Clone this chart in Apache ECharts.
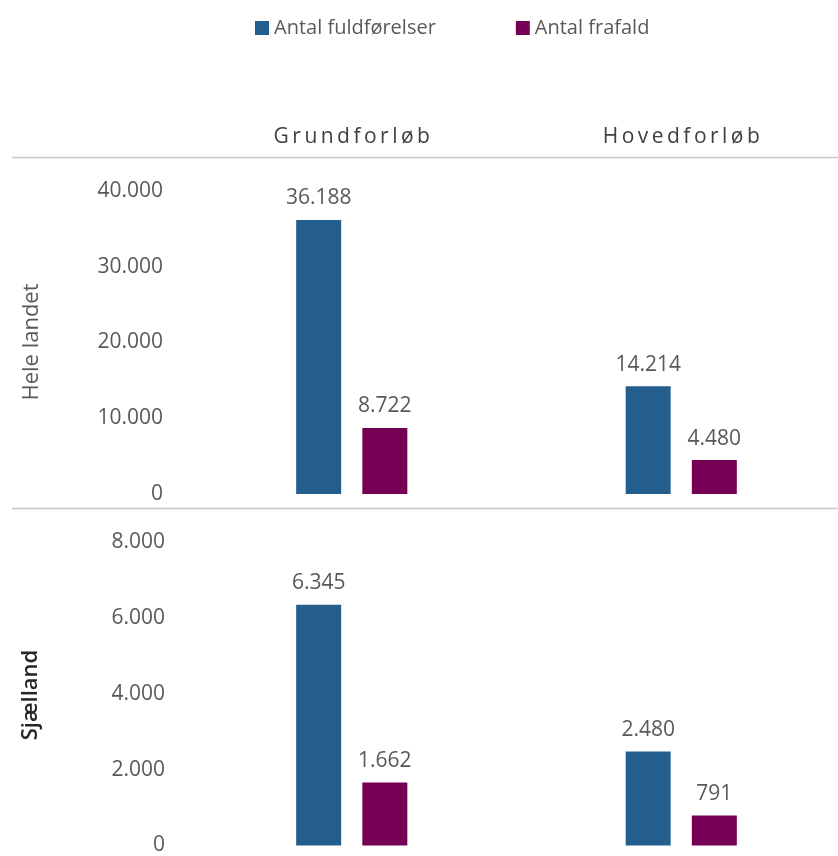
<!DOCTYPE html>
<html>
<head>
<meta charset="utf-8">
<script src="https://cdn.jsdelivr.net/npm/echarts@6/dist/echarts.min.js"></script>
<style>
html,body{margin:0;padding:0;background:#fff;overflow:hidden;}
#c{width:846px;height:856px;}
</style>
</head>
<body>
<div id="c"></div>
<script>
var categories = ['Grundforløb', 'Hovedforløb'];
var seriesNames = ['Antal fuldførelser', 'Antal frafald'];
var panelNames = ['Hele landet', 'Sjælland'];
var heleFuld = [36188, 14214];
var heleFrafald = [8722, 4480];
var sjaFuld = [6345, 2480];
var sjaFrafald = [1662, 791];

var BLUE = '#245E8D', PURPLE = '#760054', TXT = '#595959';
var FONT = '"Open Sans", "Noto Sans", sans-serif';

function fmt(v) {
  return String(v).replace(/\B(?=(\d{3})+(?!\d))/g, '.');
}
function spaced(s) {
  return s.split('').join('\u2009');
}

var chart = echarts.init(document.getElementById('c'));

function barSeries(name, data, idx, color) {
  return {
    type: 'bar', name: name, data: data,
    xAxisIndex: idx, yAxisIndex: idx,
    barWidth: 45, barGap: '47%',
    itemStyle: { color: color },
    label: {
      show: true, position: 'top', distance: 11,
      fontFamily: FONT, fontSize: 21, color: TXT,
      formatter: function (p) { return fmt(p.value); }
    },
    emphasis: { disabled: true }
  };
}

chart.setOption({
  animation: false,
  textStyle: { fontFamily: FONT },
  legend: {
    data: seriesNames,
    top: 13, left: 250,
    itemWidth: 14, itemHeight: 14, itemGap: 80,
    icon: 'rect',
    textStyle: { fontFamily: FONT, fontSize: 20, color: TXT }
  },
  grid: [
    { left: 187, right: 0, top: 191, height: 303 },
    { left: 187, right: 0, top: 542, height: 304 }
  ],
  xAxis: [
    {
      type: 'category', gridIndex: 0, data: categories, position: 'top',
      axisLine: { show: false }, axisTick: { show: false },
      axisLabel: {
        margin: 43, fontFamily: FONT, fontSize: 21, color: '#404040',
        formatter: function (v) { return spaced(v); }
      }
    },
    {
      type: 'category', gridIndex: 1, data: categories,
      axisLine: { show: false }, axisTick: { show: false },
      axisLabel: { show: false }
    }
  ],
  yAxis: [
    {
      type: 'value', gridIndex: 0, min: 0, max: 40000, interval: 10000,
      splitLine: { show: false }, axisLine: { show: false }, axisTick: { show: false },
      axisLabel: { margin: 24, fontFamily: FONT, fontSize: 21, color: TXT, formatter: fmt }
    },
    {
      type: 'value', gridIndex: 1, min: 0, max: 8000, interval: 2000,
      splitLine: { show: false }, axisLine: { show: false }, axisTick: { show: false },
      axisLabel: { margin: 22, fontFamily: FONT, fontSize: 21, color: TXT, formatter: fmt }
    }
  ],
  series: [
    barSeries(seriesNames[0], heleFuld, 0, BLUE),
    barSeries(seriesNames[1], heleFrafald, 0, PURPLE),
    barSeries(seriesNames[0], sjaFuld, 1, BLUE),
    barSeries(seriesNames[1], sjaFrafald, 1, PURPLE)
  ],
  graphic: [
    { type: 'line', silent: true, shape: { x1: 12, y1: 157.5, x2: 846, y2: 157.5 },
      style: { stroke: '#c8c8c8', lineWidth: 1.5 } },
    { type: 'line', silent: true, shape: { x1: 12, y1: 508.5, x2: 846, y2: 508.5 },
      style: { stroke: '#c8c8c8', lineWidth: 1.5 } },
    { type: 'text', silent: true, x: 32, y: 342, rotation: Math.PI / 2,
      style: { text: panelNames[0], textAlign: 'center', textVerticalAlign: 'middle',
        fontFamily: FONT, fontSize: 22, fill: TXT } },
    { type: 'text', silent: true, x: 31, y: 695, rotation: Math.PI / 2,
      style: { text: panelNames[1], textAlign: 'center', textVerticalAlign: 'middle',
        fontFamily: FONT, fontSize: 22, fontWeight: 600, fill: '#262626' } }
  ]
});
</script>
</body>
</html>
